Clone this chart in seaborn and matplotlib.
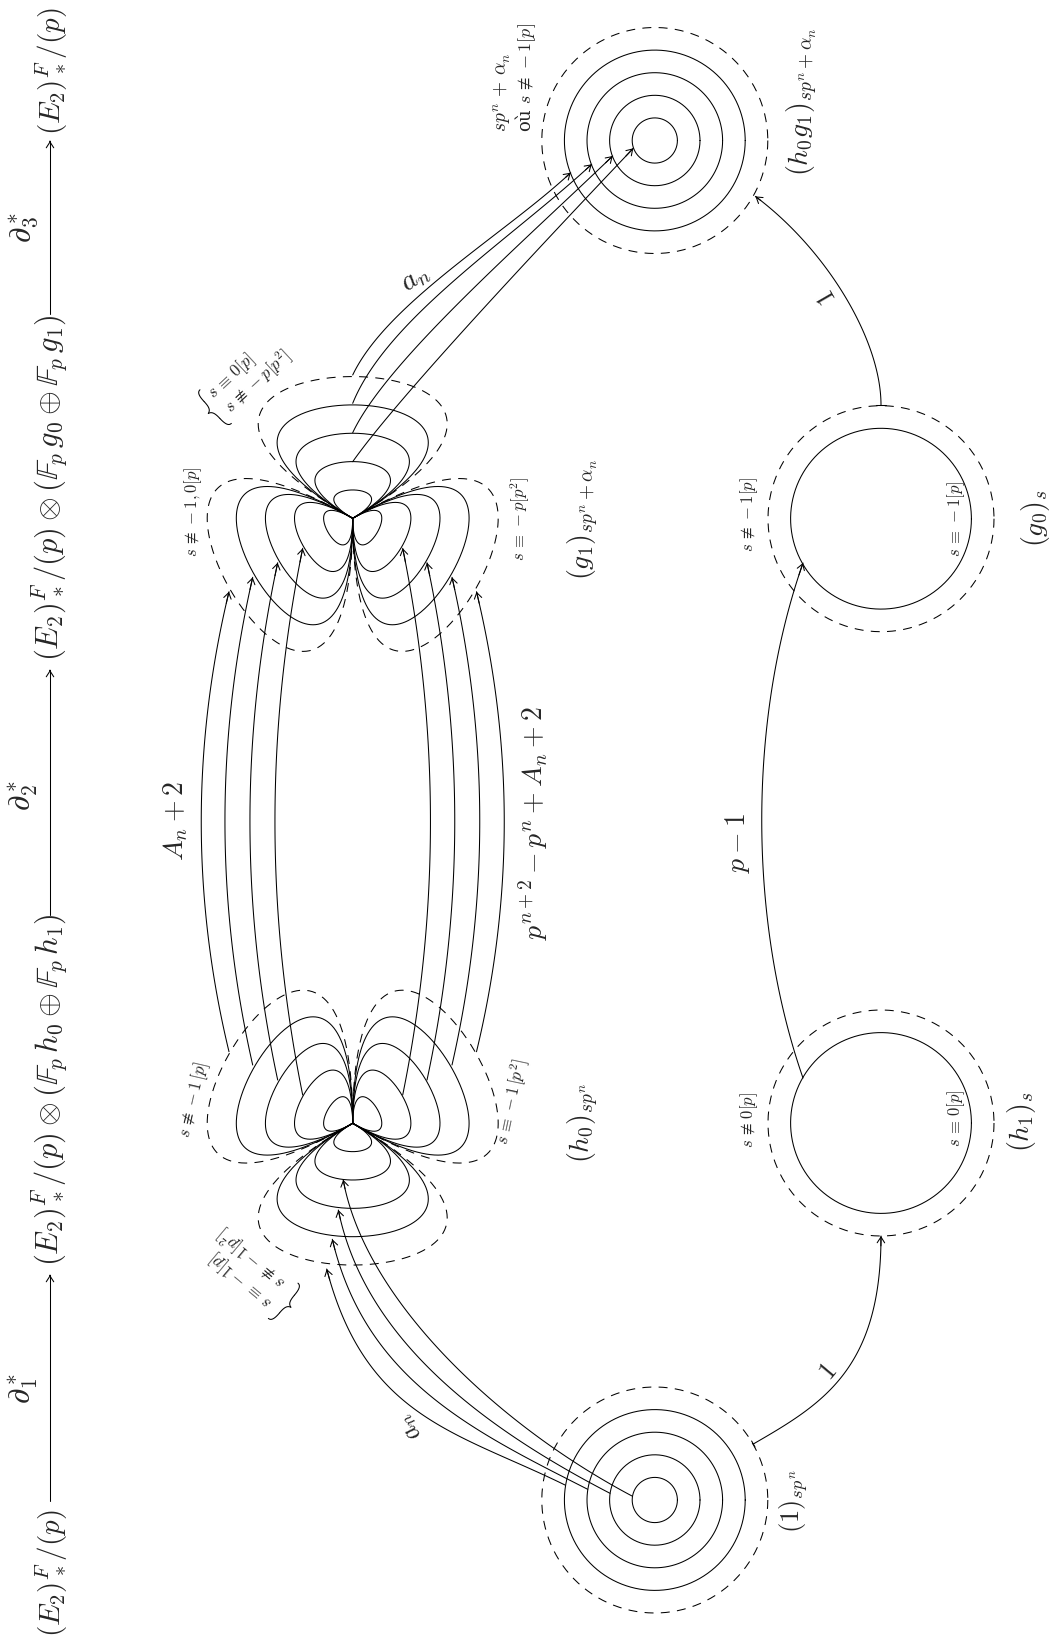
import numpy as np
import pandas as pd
import matplotlib
matplotlib.use("Agg")
import matplotlib.pyplot as plt
import seaborn as sns

sns.set_style("white")
plt.rcParams['mathtext.fontset'] = 'cm'
plt.rcParams['font.family'] = ['DejaVu Serif']

W, H = 1051, 1639
LW = 0.75
DASH = (0, (8.6, 7.0))

# discs (centre x, centre y)
disc_centres = [(654.8, 140.5), (654.8, 1500.0)]
disc_radii = [22.6, 45.2, 67.8, 90.4]
single_centres = [(881.0, 518.7), (881.0, 1123.0)]
single_radius = 90.4
dashed_radius = 113.0

# flowers (knot x, knot y, rotations of the three petals)
flower_knots = [(352.7, 518.3), (352.7, 1123.3)]
flower_rots = [(0, 120, 240), (180, 300, 60)]
petal_reach = [75.6, 151.2, 226.8, 302.4]
petal_dashed = 378.0

# bezier control points of the arrows: start, c1, c2, tip
an_top = [
    [(352.7, 375.0), (387, 303), (505, 234), (570.7, 172.7)],
    [(352.7, 403.3), (387, 318.5), (511, 239), (591.7, 164.3)],
    [(352.7, 432.7), (386, 362), (519, 246), (612.7, 156.0)],
    [(352.7, 461.7), (396, 400), (536.7, 249.8), (633.3, 148.3)],
]
an_bottom = [
    [(565.0, 1485.0), (457, 1432), (365.7, 1418), (326.7, 1269.0)],
    [(587.7, 1489.3), (471, 1430), (365.5, 1379), (332.3, 1239.3)],
    [(610.0, 1493.3), (484, 1428), (365, 1340), (338.3, 1210.0)],
    [(632.0, 1496.0), (498, 1425), (365, 1300), (343.2, 1179.8)],
]
long_left_x = [229.0, 252.7, 277.7, 302.7]
long_start_y = [1051.7, 1065.0, 1080.0, 1095.0]
long_tip_y = [591.7, 577.3, 562.7, 548.3]
long_right_x = [476.5, 452.0, 427.0, 402.7]
long_bulge = 37.0

one_lower = [(753.3, 1444.0), (822.6, 1404), (881, 1369), (881.0, 1236.0)]
one_upper = [(881.0, 405.0), (881, 340), (827, 250), (755.4, 196.4)]
p_minus_one = [(803.0, 1078.0), (748, 920), (748, 720), (803.0, 563.0)]
top_arrows = [(1501.0, 1275.0), (915.0, 670.0), (314.0, 141.0)]
top_arrow_x = 50.0

# text: string, x, y, size, rotation
big_texts = [
    (r"$(E_2)^F_*/(p)$", 51, 1573, 21, 90),
    (r"$(E_2)^F_*/(p)\otimes(\mathbb{F}_p\,h_0\oplus\mathbb{F}_p\,h_1)$", 50, 1090, 22, 90),
    (r"$(E_2)^F_*/(p)\otimes(\mathbb{F}_p\,g_0\oplus\mathbb{F}_p\,g_1)$", 50, 488, 22, 90),
    (r"$(E_2)^F_*/(p)$", 51, 71, 21, 90),
    (r"$\partial_1^*$", 24, 1389, 22, 90),
    (r"$\partial_2^*$", 24, 796, 22, 90),
    (r"$\partial_3^*$", 24, 228, 22, 90),
    (r"$A_n+2$", 176, 821, 20, 90),
    (r"$p^{n+2}-p^n+A_n+2$", 533, 823, 20, 90),
    (r"$p-1$", 737, 843, 20, 90),
    (r"$(h_0)_{sp^n}$", 583, 1123, 20, 90),
    (r"$(g_1)_{sp^n+\alpha_n}$", 583, 519, 20, 90),
    (r"$(h_1)_s$", 1021, 1122, 20, 90),
    (r"$(g_0)_s$", 1036, 518, 20, 90),
    (r"$(1)_{sp^n}$", 794, 1501, 19, 90),
    (r"$(h_0g_1)_{sp^n+\alpha_n}$", 802, 102, 20, 90),
    (r"$a_n$", 415, 278, 21, 35),
    (r"$a_n$", 410, 1427, 19, 130),
    (r"$1$", 827, 297, 19, 120),
    (r"$1$", 828, 1372, 19, 50),
]
small_texts = [
    (r"$sp^n\,+\,\alpha_n$", 502, 92, 14, 90),
    (r"où $s\,\nequiv\,-1[p]$", 526, 78, 13, 90),
    (r"$s\,\nequiv\,-1,0[p]$", 193, 512, 12, 90),
    (r"$s\,\equiv\,-p[p^2]$", 520, 519, 12, 90),
    (r"$s\,\nequiv\,-1\,[p]$", 194, 1100, 12, 77),
    (r"$s\,\equiv\,-1\,[p^2]$", 513, 1102, 12, 78),
    (r"$s\,\nequiv\,0[p]$", 749, 1120, 12, 90),
    (r"$s\,\equiv\,0[p]$", 956, 1118, 12, 90),
    (r"$s\,\nequiv\,-1[p]$", 749, 515, 12, 90),
    (r"$s\,\equiv\,-1[p]$", 956, 519, 12, 90),
    (r"$s\,\equiv\,0[p]$", 232, 376, 12, 43),
    (r"$s\,\nequiv\,-p[p^2]$", 258, 382, 12, 43),
    (r"$s\,\equiv\,-1[p]$", 242, 1280, 12, 140),
    (r"$s\,\nequiv\,-1[p^2]$", 253, 1257, 12, 140),
]
brace_spots = [(212.0, 410.0, 43.0), (287.0, 1304.0, 140.0)]
brace_len = 46.0


def bez(ctrl, n=120):
    p = np.array(ctrl, dtype=float)
    t = np.linspace(0, 1, n)[:, None]
    return (1 - t) ** 3 * p[0] + 3 * (1 - t) ** 2 * t * p[1] + 3 * (1 - t) * t ** 2 * p[2] + t ** 3 * p[3]


def curve(ax, pts, dashed=False):
    df = pd.DataFrame(pts, columns=["x", "y"])
    kw = dict(linestyle=DASH) if dashed else {}
    sns.lineplot(data=df, x="x", y="y", sort=False, estimator=None, color="k",
                 linewidth=LW, legend=False, ax=ax, **kw)


def circle(ax, cx, cy, r, dashed=False):
    th = np.linspace(0, 2 * np.pi, 240)
    curve(ax, np.c_[cx + r * np.cos(th), cy + r * np.sin(th)], dashed)


def petal(ax, kx, ky, reach, rot, dashed=False):
    a1, a2 = np.radians(150 + rot), np.radians(30 + rot)
    ctrl = [(kx, ky),
            (kx + reach * np.cos(a1), ky - reach * np.sin(a1)),
            (kx + reach * np.cos(a2), ky - reach * np.sin(a2)),
            (kx, ky)]
    curve(ax, bez(ctrl, 200), dashed)


def arrow(ax, ctrl, head=True):
    pts = bez(ctrl)
    curve(ax, pts)
    if head:
        ax.annotate("", xy=pts[-1], xytext=pts[-4],
                    arrowprops=dict(arrowstyle="->,head_length=0.42,head_width=0.27",
                                    lw=LW, color="k", shrinkA=0, shrinkB=0, mutation_scale=10))


def brace(ax, x, y, reading, length):
    # local frame: u along the spine, v along the reading direction
    a = np.radians(reading)
    v = np.array([np.cos(a), -np.sin(a)])
    u = np.array([np.sin(a), np.cos(a)])
    h = length / 2
    c = np.array([x, y])
    segs = [
        [(h, 5), (h, 1), (h * 0.8, 0), (h * 0.5, 0)],
        [(h * 0.5, 0), (h * 0.2, 0), (h * 0.05, -1), (0, -5)],
        [(0, -5), (-h * 0.05, -1), (-h * 0.2, 0), (-h * 0.5, 0)],
        [(-h * 0.5, 0), (-h * 0.8, 0), (-h, 1), (-h, 5)],
    ]
    for s in segs:
        ctrl = [c + p[0] * u + p[1] * v for p in s]
        curve(ax, bez(ctrl, 30))


fig = plt.figure(figsize=(W / 100, H / 100), dpi=100)
ax = fig.add_axes([0, 0, 1, 1])

for cx, cy in disc_centres:
    for r in disc_radii:
        circle(ax, cx, cy, r)
    circle(ax, cx, cy, dashed_radius, dashed=True)
for cx, cy in single_centres:
    circle(ax, cx, cy, single_radius)
    circle(ax, cx, cy, dashed_radius, dashed=True)

for (kx, ky), rots in zip(flower_knots, flower_rots):
    for rot in rots:
        for reach in petal_reach:
            petal(ax, kx, ky, reach, rot)
        petal(ax, kx, ky, petal_dashed, rot, dashed=True)

for c in an_top + an_bottom:
    arrow(ax, c)
for xs in (long_left_x, long_right_x):
    side = -1 if xs is long_left_x else 1
    for x, y0, y1 in zip(xs, long_start_y, long_tip_y):
        third = (y0 - y1) / 3
        arrow(ax, [(x, y0), (x + side * long_bulge, y0 - third), (x + side * long_bulge, y1 + third), (x, y1)])

arrow(ax, one_lower)
arrow(ax, one_upper)
arrow(ax, p_minus_one)
# start ticks of the maps labelled 1
curve(ax, np.array([(751.6, 1441.0), (755.0, 1447.0)]))
curve(ax, np.array([(876.0, 405.0), (886.0, 405.0)]))

for y0, y1 in top_arrows:
    arrow(ax, [(top_arrow_x, y0), (top_arrow_x, y0), (top_arrow_x, y1), (top_arrow_x, y1)])

for s, x, y, size, rot in big_texts + small_texts:
    ax.text(x, y, s, fontsize=size, rotation=rot, ha="center", va="center", rotation_mode="anchor")
for x, y, reading in brace_spots:
    brace(ax, x, y, reading, brace_len)

ax.set_xlim(0, W)
ax.set_ylim(H, 0)
ax.axis("off")
fig.savefig("out.png", dpi=100, facecolor="white")
